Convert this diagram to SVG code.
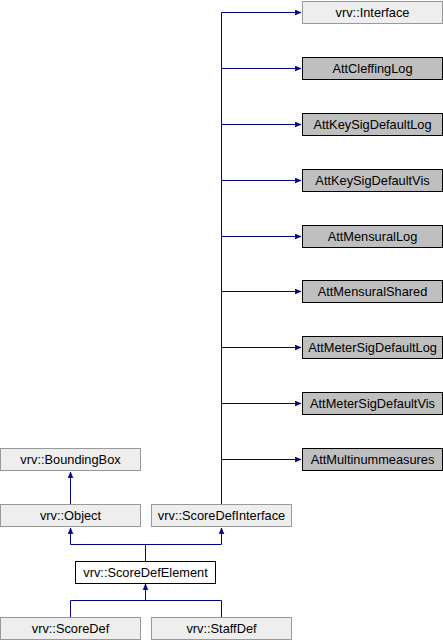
<svg xmlns="http://www.w3.org/2000/svg" width="443" height="640" viewBox="0 0 443 640">
<style>
.n{fill:#eeeeee;stroke:#999999;stroke-width:1}
.a{fill:#bfbfbf;stroke:#000000;stroke-width:1}
.w{fill:#ffffff;stroke:#000000;stroke-width:1}
text{font-family:"Liberation Sans",Arial,sans-serif;font-size:12.8px;fill:#000;text-anchor:middle}
.e{fill:none;stroke:#00008b;stroke-width:1}
</style>
<defs>
<marker id="ah" viewBox="0 0 10 10" refX="10" refY="5" markerWidth="6" markerHeight="6" markerUnits="userSpaceOnUse" orient="auto">
<path d="M0,1 L10,5 L0,9 z" fill="#00008b" stroke="#00008b"/>
</marker>
</defs>
<rect width="443" height="640" fill="#ffffff"/>
<g id="connectors">
<path class="e" d="M221.5,504 V12.5"/>
<path class="e" d="M221.5,12.5 H301" marker-end="url(#ah)"/>
<path class="e" d="M221.5,68.5 H301" marker-end="url(#ah)"/>
<path class="e" d="M221.5,124.5 H301" marker-end="url(#ah)"/>
<path class="e" d="M221.5,180.5 H301" marker-end="url(#ah)"/>
<path class="e" d="M221.5,236.5 H301" marker-end="url(#ah)"/>
<path class="e" d="M221.5,291.5 H301" marker-end="url(#ah)"/>
<path class="e" d="M221.5,347.5 H301" marker-end="url(#ah)"/>
<path class="e" d="M221.5,403.5 H301" marker-end="url(#ah)"/>
<path class="e" d="M221.5,459.5 H301" marker-end="url(#ah)"/>
<path class="e" d="M70.5,504 V472" marker-end="url(#ah)"/>
<path class="e" d="M145.5,561 V544.5 H70.5 V528" marker-end="url(#ah)"/>
<path class="e" d="M145.5,544.5 H221.5 V528" marker-end="url(#ah)"/>
<path class="e" d="M70.5,617 V600.5 H221.5 V617"/>
<path class="e" d="M145.5,600.5 V584" marker-end="url(#ah)"/>
</g>
<g id="interface"><rect class="n" x="302.5" y="1.5" width="140" height="22"/><text x="372.5" y="17">vrv::Interface</text></g>
<g id="attcleffinglog"><rect class="a" x="302.5" y="57.5" width="140" height="22"/><text x="372.5" y="73">AttCleffingLog</text></g>
<g id="attkeysigdefaultlog"><rect class="a" x="302.5" y="113.5" width="140" height="22"/><text x="372.5" y="129">AttKeySigDefaultLog</text></g>
<g id="attkeysigdefaultvis"><rect class="a" x="302.5" y="169.5" width="140" height="22"/><text x="372.5" y="185">AttKeySigDefaultVis</text></g>
<g id="attmensurallog"><rect class="a" x="302.5" y="225.5" width="140" height="22"/><text x="372.5" y="241">AttMensuralLog</text></g>
<g id="attmensuralshared"><rect class="a" x="302.5" y="280.5" width="140" height="22"/><text x="372.5" y="296">AttMensuralShared</text></g>
<g id="attmetersigdefaultlog"><rect class="a" x="302.5" y="336.5" width="140" height="22"/><text x="372.5" y="352">AttMeterSigDefaultLog</text></g>
<g id="attmetersigdefaultvis"><rect class="a" x="302.5" y="392.5" width="140" height="22"/><text x="372.5" y="408">AttMeterSigDefaultVis</text></g>
<g id="attmultinummeasures"><rect class="a" x="302.5" y="448.5" width="140" height="22"/><text x="372.5" y="464">AttMultinummeasures</text></g>
<g id="boundingbox"><rect class="n" x="0.5" y="448.5" width="140" height="22"/><text x="70.5" y="464">vrv::BoundingBox</text></g>
<g id="object"><rect class="n" x="0.5" y="504.5" width="140" height="22"/><text x="70.5" y="520">vrv::Object</text></g>
<g id="scoredefinterface"><rect class="n" x="151.5" y="504.5" width="140" height="22"/><text x="221.5" y="520">vrv::ScoreDefInterface</text></g>
<g id="scoredefelement"><rect class="w" x="75.5" y="561.5" width="140" height="22"/><text x="145.5" y="577">vrv::ScoreDefElement</text></g>
<g id="scoredef"><rect class="n" x="0.5" y="617.5" width="140" height="22"/><text x="70.5" y="633">vrv::ScoreDef</text></g>
<g id="staffdef"><rect class="n" x="151.5" y="617.5" width="140" height="22"/><text x="221.5" y="633">vrv::StaffDef</text></g>
</svg>
